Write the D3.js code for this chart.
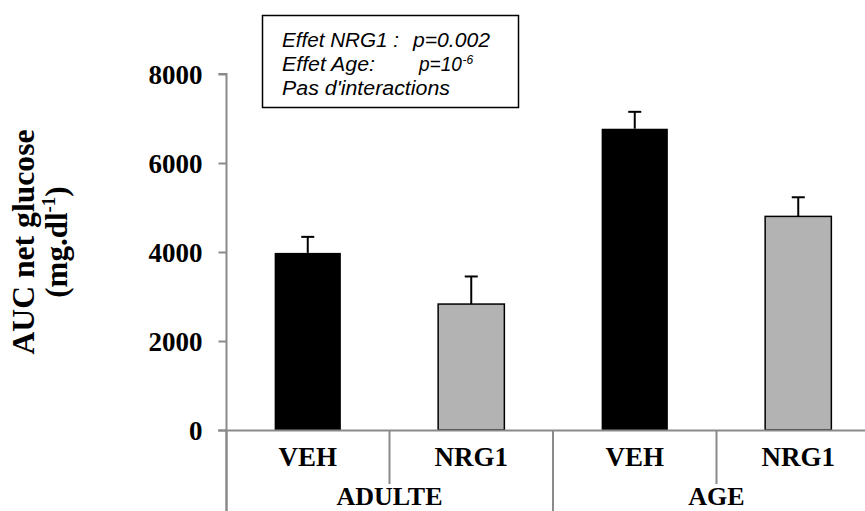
<!DOCTYPE html>
<html><head><meta charset="utf-8">
<script src="https://cdn.jsdelivr.net/npm/d3@7"></script>
<style>body{margin:0;background:#fff}svg{display:block}</style>
</head><body>
<svg id="c" width="865" height="511"></svg>
<script>
const groups = ["ADULTE", "AGE"];
const treatments = ["VEH", "NRG1"];
const categories = ["ADULTE-VEH", "ADULTE-NRG1", "AGE-VEH", "AGE-NRG1"];
const catLabels = ["VEH", "NRG1", "VEH", "NRG1"];
const values = [3980, 2830, 6770, 4800];
const errors = [360, 620, 380, 430];
const yTicks = [0, 2000, 4000, 6000, 8000];

const svg = d3.select("#c");
const serif = "'Liberation Serif','Times New Roman',serif";
const sans = "'Liberation Sans',Arial,sans-serif";
const axisCol = "#8a8a8a";

const y = d3.scaleLinear().domain([0, 8000]).range([430, 74]);
const x = d3.scaleBand().domain(categories).range([226, 880]).padding(0);
const gx = d3.scaleBand().domain(groups).range([226, 880]).padding(0);
const bw = x.bandwidth() * 0.405;

// bars
svg.selectAll("rect.bar").data(categories).enter().append("rect")
  .attr("x", (d) => x(d) + x.bandwidth() / 2 - bw / 2)
  .attr("y", (d, i) => y(values[i]))
  .attr("width", bw)
  .attr("height", (d, i) => y(0) - y(values[i]))
  .attr("fill", (d, i) => i % 2 === 0 ? "#000" : "#b3b3b3")
  .attr("stroke", "#000")
  .attr("stroke-width", (d, i) => i % 2 === 0 ? 0 : 1.5);

// error bars (upper only)
const eb = svg.append("g").attr("stroke", "#000").attr("stroke-width", 2);
categories.forEach((d, i) => {
  const cx = x(d) + x.bandwidth() / 2;
  eb.append("line").attr("x1", cx).attr("x2", cx).attr("y1", y(values[i])).attr("y2", y(values[i] + errors[i]));
  eb.append("line").attr("x1", cx - 6.5).attr("x2", cx + 6.5).attr("y1", y(values[i] + errors[i])).attr("y2", y(values[i] + errors[i]));
});

// y axis
const yAxis = d3.axisLeft(y).tickValues(yTicks).tickSize(8).tickPadding(16).tickFormat(d3.format("d"));
const ya = svg.append("g").attr("transform", "translate(226.5,0)").call(yAxis);
ya.select(".domain").attr("stroke", axisCol).attr("stroke-width", 2).attr("d", "M-8,74H0V511");
ya.selectAll(".tick line").attr("stroke", axisCol).attr("stroke-width", 2);
ya.selectAll(".tick text").attr("font-family", serif).attr("font-weight", "bold")
  .attr("font-size", 27).attr("fill", "#000").attr("dy", null).attr("y", 9);

// x axis line
svg.append("line").attr("x1", 218).attr("x2", 880).attr("y1", 430.5).attr("y2", 430.5)
  .attr("stroke", axisCol).attr("stroke-width", 2);

// category separators
const sep = svg.append("g").attr("stroke", axisCol).attr("stroke-width", 2);
categories.forEach((d, i) => {
  if (i % 2 === 1) sep.append("line").attr("x1", x(d)).attr("x2", x(d)).attr("y1", 430).attr("y2", 484);
});
groups.forEach((g) => {
  sep.append("line").attr("x1", gx(g) + (g === groups[0] ? 0.5 : 0)).attr("x2", gx(g) + (g === groups[0] ? 0.5 : 0)).attr("y1", 430).attr("y2", 511);
});

// category labels
svg.selectAll("text.cat").data(categories).enter().append("text")
  .attr("x", (d) => x(d) + x.bandwidth() / 2).attr("y", 466)
  .attr("text-anchor", "middle").attr("font-family", serif).attr("font-weight", "bold")
  .attr("font-size", 27).text((d, i) => catLabels[i]);

svg.selectAll("text.grp").data(groups).enter().append("text")
  .attr("x", (d) => gx(d) + gx.bandwidth() / 2).attr("y", 505)
  .attr("text-anchor", "middle").attr("font-family", serif).attr("font-weight", "bold")
  .attr("font-size", 26).text((d) => d);

// y label
const yl = svg.append("g").attr("transform", "translate(0,242) rotate(-90)")
  .attr("font-family", serif).attr("font-weight", "bold").attr("font-size", 31).attr("text-anchor", "middle");
yl.append("text").attr("x", 0).attr("y", 33.5).attr("textLength", 225).attr("lengthAdjust", "spacingAndGlyphs").text("AUC net glucose");
const l2 = yl.append("text").attr("x", 0).attr("y", 67);
l2.append("tspan").text("(mg.dl");
l2.append("tspan").attr("font-size", 19).attr("dy", -12).text("-1");
l2.append("tspan").attr("dy", 12).text(")");

// stats box
svg.append("rect").attr("x", 262.5).attr("y", 15.5).attr("width", 256).attr("height", 92)
  .attr("fill", "#fff").attr("stroke", "#000").attr("stroke-width", 1.5);
const st = svg.append("g").attr("font-family", sans).attr("font-style", "italic").attr("font-size", 19.5).attr("fill", "#000");
st.append("text").attr("x", 282).attr("y", 46.5).attr("textLength", 117).attr("lengthAdjust", "spacingAndGlyphs").text("Effet NRG1 :");
st.append("text").attr("x", 413).attr("y", 46.5).attr("textLength", 77).attr("lengthAdjust", "spacingAndGlyphs").text("p=0.002");
st.append("text").attr("x", 282).attr("y", 70.5).attr("textLength", 93).attr("lengthAdjust", "spacingAndGlyphs").text("Effet Age:");
st.append("text").attr("x", 419).attr("y", 70.5).attr("textLength", 43).attr("lengthAdjust", "spacingAndGlyphs").text("p=10");
st.append("text").attr("x", 462.5).attr("y", 64).attr("font-size", 12).text("-6");
st.append("text").attr("x", 282).attr("y", 94.5).attr("textLength", 168).attr("lengthAdjust", "spacingAndGlyphs").text("Pas d'interactions");
</script>
</body></html>
